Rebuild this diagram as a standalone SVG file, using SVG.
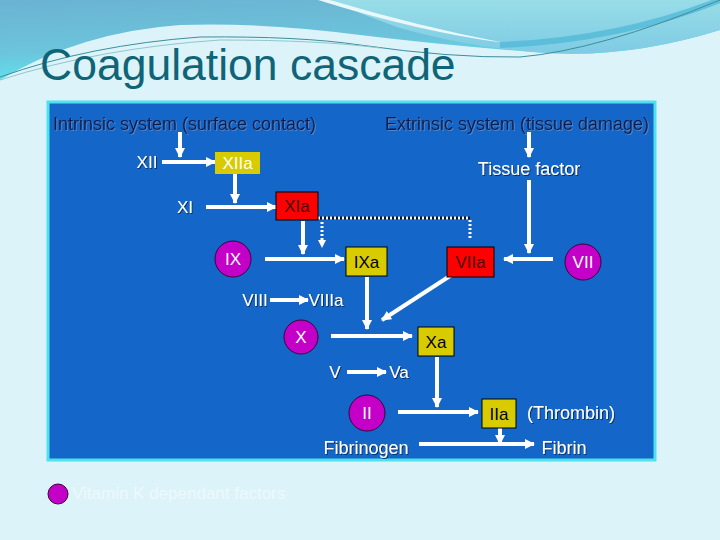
<svg xmlns="http://www.w3.org/2000/svg" width="720" height="540" viewBox="0 0 720 540">
<defs>
<linearGradient id="wl" x1="0" y1="0" x2="0.3" y2="1">
<stop offset="0" stop-color="#6ab3d2"/>
<stop offset="0.6" stop-color="#6cc4dc"/>
<stop offset="1" stop-color="#5ee6f0"/>
</linearGradient>
<linearGradient id="wr" x1="0" y1="0" x2="0" y2="1">
<stop offset="0" stop-color="#98dde8"/>
<stop offset="1" stop-color="#7ecbe4"/>
</linearGradient>
<marker id="ah" markerUnits="userSpaceOnUse" markerWidth="10" markerHeight="10" refX="9" refY="5" orient="auto">
<path d="M0,0 L10,5 L0,10 z" fill="#fff"/>
</marker>
<filter id="sh" x="-10%" y="-20%" width="130%" height="150%">
<feDropShadow dx="1" dy="1" stdDeviation="0.4" flood-color="#002050" flood-opacity="0.8"/>
</filter>
<filter id="sh2" x="-10%" y="-20%" width="130%" height="150%">
<feDropShadow dx="1" dy="1" stdDeviation="0.4" flood-color="#6a8cc8" flood-opacity="0.7"/>
</filter>
</defs>
<style>
text{font-family:"Liberation Sans",Arial,sans-serif}
.lbl{font-size:17px;fill:#fff;text-anchor:middle;filter:url(#sh)}
.wd{font-size:18px}
.hd{font-size:18px;fill:#0c1a48;filter:url(#sh2)}
.bx{font-size:17px;fill:#000;text-anchor:middle}
.rd{font-size:17px;fill:#4a0000;text-anchor:middle}
.cw{font-size:17px;fill:#fff;text-anchor:middle}
.ar{stroke:#fff;stroke-width:4;fill:none;marker-end:url(#ah)}
.dt{stroke:#fff;stroke-width:3;fill:none;stroke-dasharray:2 2}
.y{fill:#d8cc00;stroke:#000;stroke-width:1}
.r{fill:#ff0000;stroke:#000;stroke-width:1}
.m{fill:#c400c8;stroke:#3a003a;stroke-width:1}
</style>
<rect width="720" height="540" fill="#dcf4f9"/>
<path d="M0,0 H720 V30 Q630,58 547,53 Q450,46 360,35 Q260,22 180,25 Q80,32 0,80 Z" fill="url(#wl)"/>
<path d="M330,0 H720 V30 Q630,58 547,53 Q470,48 400,28 Q360,14 330,0 Z" fill="url(#wr)"/>
<path d="M318,0 Q420,32 505,43 Q420,27 330,0 Z" fill="#eaf8fb"/>
<path d="M500,45 Q620,40 720,0" stroke="#4bb6d6" stroke-width="6" fill="none" opacity="0.7"/>
<path d="M0,77 Q90,45 200,37 Q300,36 360,45 Q450,58 520,57 Q600,50 720,0" stroke="#3d8e9c" stroke-width="1" fill="none"/>
<path d="M0,80 Q100,48 220,40 Q320,40 380,48" stroke="#8fc6cc" stroke-width="1" fill="none"/>
<text x="40" y="80" font-size="44.5" fill="#0f6577">Coagulation cascade</text>
<rect x="48" y="102" width="607" height="358" fill="#1467c8" stroke="#4ee2f0" stroke-width="3"/>
<text class="hd" x="53" y="130">Intrinsic system (surface contact)</text>
<text class="hd" x="385" y="130">Extrinsic system (tissue damage)</text>
<g id="connectors">
<line class="ar" x1="180" y1="132" x2="180" y2="157"/>
<line class="ar" x1="162" y1="162" x2="215" y2="162"/>
<line class="ar" x1="235" y1="174" x2="235" y2="203"/>
<line class="ar" x1="206" y1="207" x2="276" y2="207"/>
<line class="ar" x1="303" y1="221" x2="303" y2="254"/>
<line x1="318" y1="218" x2="470" y2="218" stroke="#0a1430" stroke-width="3"/>
<line class="dt" x1="318" y1="218" x2="470" y2="218"/>
<line class="dt" x1="470" y1="220" x2="470" y2="240"/>
<line class="dt" x1="322" y1="222" x2="322" y2="240"/>
<path d="M318,240 L326,240 L322,248 z" fill="#fff"/>
<line class="ar" x1="529" y1="132" x2="529" y2="157"/>
<line class="ar" x1="529" y1="180" x2="529" y2="253"/>
<line class="ar" x1="553" y1="259" x2="504" y2="259"/>
<line class="ar" x1="265" y1="259" x2="344" y2="259"/>
<line class="ar" x1="367" y1="277" x2="367" y2="329"/>
<line class="ar" x1="453" y1="274" x2="382" y2="320"/>
<line class="ar" x1="270" y1="300" x2="308" y2="300"/>
<line class="ar" x1="331" y1="336" x2="412" y2="336"/>
<line class="ar" x1="347" y1="372" x2="386" y2="372"/>
<line class="ar" x1="437" y1="357" x2="437" y2="407"/>
<line class="ar" x1="398" y1="412" x2="478" y2="412"/>
<line class="ar" x1="419" y1="444" x2="534" y2="444"/>
<line class="ar" x1="500" y1="428" x2="500" y2="444"/>
</g>
<g id="n-xii"><text class="lbl" x="147" y="168">XII</text></g>
<g id="n-xiia"><rect x="215" y="152" width="45" height="22" fill="#d8cc00"/><text class="cw" x="237.5" y="169">XIIa</text></g>
<g id="n-xi"><text class="lbl" x="185" y="213">XI</text></g>
<g id="n-xia"><rect class="r" x="276" y="192" width="42" height="28"/><text class="rd" x="297" y="212">XIa</text></g>
<g id="n-tf"><text class="lbl wd" x="529" y="175">Tissue factor</text></g>
<g id="n-ix"><circle class="m" cx="233" cy="259" r="18"/><text class="cw" x="233" y="265">IX</text></g>
<g id="n-ixa"><rect class="y" x="346" y="247" width="41" height="29"/><text class="bx" x="366.5" y="268">IXa</text></g>
<g id="n-viia"><rect class="r" x="447" y="247" width="47" height="30"/><text class="rd" x="470.5" y="268">VIIa</text></g>
<g id="n-vii"><circle class="m" cx="583" cy="262" r="18"/><text class="cw" x="583" y="268">VII</text></g>
<g id="n-viii"><text class="lbl" x="255" y="306">VIII</text></g>
<g id="n-viiia"><text class="lbl" x="326" y="306">VIIIa</text></g>
<g id="n-x"><circle class="m" cx="301" cy="337" r="17"/><text class="cw" x="301" y="343">X</text></g>
<g id="n-xa"><rect class="y" x="418" y="327" width="36" height="29"/><text class="bx" x="436" y="348">Xa</text></g>
<g id="n-v"><text class="lbl" x="335" y="378">V</text></g>
<g id="n-va"><text class="lbl" x="399" y="378">Va</text></g>
<g id="n-ii"><circle class="m" cx="367" cy="413" r="18"/><text class="cw" x="367" y="419">II</text></g>
<g id="n-iia"><rect class="y" x="482" y="399" width="34" height="29"/><text class="bx" x="499" y="420">IIa</text></g>
<g id="n-thrombin"><text class="lbl wd" x="571" y="419">(Thrombin)</text></g>
<g id="n-fibrinogen"><text class="lbl wd" x="366" y="454">Fibrinogen</text></g>
<g id="n-fibrin"><text class="lbl wd" x="564" y="454">Fibrin</text></g>
<g id="legend"><circle class="m" cx="58" cy="494" r="10"/><text x="72" y="499" font-size="17" fill="#eef9fc">Vitamin K dependant factors</text></g>
</svg>
